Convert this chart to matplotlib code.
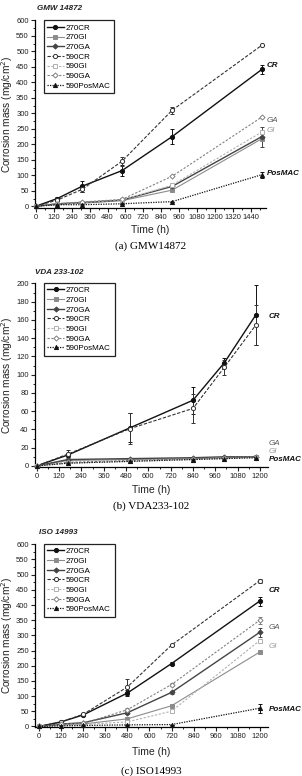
import numpy as np
import matplotlib
matplotlib.use("Agg")
from matplotlib import pyplot as plt
from matplotlib.ticker import MultipleLocator
from matplotlib.transforms import blended_transform_factory

# --- data (corrosion mass, mg/cm^2) ---
SERIES = ["270CR", "270GI", "270GA", "590CR", "590GI", "590GA", "590PosMAC"]

# (a) GMW 14872
A_TIME = [0, 144, 312, 576, 912, 1512]
A_270CR = [0, 25, 65, 115, 225, 442]
A_270GI = [0, 6, 10, 18, 52, 218]
A_270GA = [0, 8, 12, 20, 64, 225]
A_590CR = [0, 20, 55, 145, 310, 520]
A_590GI = [0, 6, 12, 20, 68, 240]
A_590GA = [0, 8, 14, 22, 97, 288]
A_590POS = [0, 5, 5, 8, 15, 102]
A_ERR_270CR = [0, 6, 18, 18, 25, 15]
A_ERR_590CR = [0, 4, 8, 15, 12, 0]
A_ERR_270GA = [0, 0, 0, 0, 6, 32]
A_ERR_590POS = [0, 0, 0, 0, 0, 10]

# (b) VDA 233-102
B_TIME = [0, 168, 504, 840, 1008, 1176]
B_270CR = [0, 12, 42, 72, 113, 165]
B_270GI = [0, 6, 7, 8, 9, 10]
B_270GA = [0, 7, 8, 9, 10, 10]
B_590CR = [0, 13, 41, 63, 108, 154]
B_590GI = [0, 3, 5, 7, 8, 9]
B_590GA = [0, 4, 6, 8, 9, 10]
B_590POS = [0, 3, 5, 7, 8, 9]
B_ERR_270CR = [0, 2, 16, 15, 5, 33]
B_ERR_590CR = [0, 4, 17, 16, 8, 22]

# (c) ISO 14993
C_TIME = [0, 120, 240, 480, 720, 1200]
C_270CR = [0, 15, 38, 110, 207, 413]
C_270GI = [0, 5, 8, 25, 68, 245]
C_270GA = [0, 8, 12, 45, 112, 310]
C_590CR = [0, 15, 40, 130, 268, 480]
C_590GI = [0, 4, 6, 15, 50, 283]
C_590GA = [0, 8, 10, 55, 138, 350]
C_590POS = [0, 2, 3, 5, 6, 60]
C_ERR_270CR = [0, 3, 4, 10, 6, 15]
C_ERR_590CR = [0, 3, 4, 25, 4, 6]
C_ERR_270GA = [0, 0, 0, 5, 5, 15]
C_ERR_590GA = [0, 0, 0, 5, 5, 12]
C_ERR_590POS = [0, 0, 0, 0, 0, 15]

# right-hand annotations: name, y (data units)
A_TAGS = [("CR", 455), ("GA", 277), ("GI", 245), ("PosMAC", 105)]
B_TAGS = [("CR", 164), ("GA", 25), ("GI", 16), ("PosMAC", 7)]
C_TAGS = [("CR", 447), ("GA", 327), ("GI", 263), ("PosMAC", 55)]

STYLE = {
    "270CR": dict(color="#111111", ls="-", marker="o", mfc="#111111", lw=1.0),
    "270GI": dict(color="#8c8c8c", ls="-", marker="s", mfc="#8c8c8c", lw=0.8),
    "270GA": dict(color="#444444", ls="-", marker="D", mfc="#444444", lw=1.0),
    "590CR": dict(color="#333333", ls=(0, (3, 1.5)), marker="o", mfc="white", lw=0.8),
    "590GI": dict(color="#b0b0b0", ls=(0, (2, 1.5)), marker="s", mfc="white", lw=0.8),
    "590GA": dict(color="#808080", ls=(0, (2, 1.5)), marker="D", mfc="white", lw=0.8),
    "590PosMAC": dict(color="#111111", ls=(0, (1, 1)), marker="^", mfc="#111111", lw=0.9),
}
TAG_STYLE = {
    "CR": dict(color="#111111", weight="bold", style="italic"),
    "GA": dict(color="#555555", style="italic"),
    "GI": dict(color="#9a9a9a", style="italic"),
    "PosMAC": dict(color="#111111", weight="bold", style="italic"),
}

plt.rcParams["font.family"] = ["Liberation Sans", "DejaVu Sans"]

fig = plt.figure(figsize=(3.02, 7.76), dpi=100)


def draw_panel(rect, time, values, errs, xlim, ylim, xstep, ystep, tags, title, title_xy,
               caption, caption_y, xlab_y):
    ax = fig.add_axes(rect)
    for name, y in zip(SERIES, values):
        st = STYLE[name]
        ms = 2.6 if st["marker"] == "D" else 3.0
        ax.plot(time, y, color=st["color"], ls=st["ls"], lw=st["lw"], marker=st["marker"],
                mfc=st["mfc"], mec=st["color"], ms=ms, mew=0.7, label=name, clip_on=False,
                zorder=3)
        if errs.get(name) is not None:
            ax.errorbar(time, y, yerr=errs[name], fmt="none", ecolor=st["color"],
                        elinewidth=0.7, capsize=1.6, capthick=0.7, zorder=2)
    ax.set_xlim(*xlim)
    ax.set_ylim(*ylim)
    ax.xaxis.set_major_locator(MultipleLocator(xstep))
    ax.xaxis.set_minor_locator(MultipleLocator(xstep / 2))
    ax.yaxis.set_major_locator(MultipleLocator(ystep))
    ax.yaxis.set_minor_locator(MultipleLocator(ystep / 2))
    ax.set_xticks([t for t in ax.get_xticks() if xlim[0] <= t <= xlim[1] - 40])
    ax.set_yticks([t for t in ax.get_yticks() if ylim[0] <= t <= ylim[1] + 1])
    for s in ("top", "right"):
        ax.spines[s].set_visible(False)
    for s in ("left", "bottom"):
        ax.spines[s].set_linewidth(0.9)
    ax.tick_params(which="major", direction="out", length=3, width=0.8, labelsize=5.5,
                   pad=1.5, colors="#222222")
    ax.tick_params(which="minor", direction="out", length=1.6, width=0.6)
    ax.set_xlabel("Time (h)", fontsize=7.5, color="#222222")
    ax.set_ylabel("Corrosion mass (mg/cm$^2$)", fontsize=7.3, color="#222222")
    ax.xaxis.set_label_coords(0.5, xlab_y)
    ax.yaxis.set_label_coords(-0.085, 0.5)
    leg = ax.legend(loc="upper left", bbox_to_anchor=(0.038, 1.0), borderaxespad=0,
                    fontsize=5.8, handlelength=2.0, handletextpad=0.3, labelspacing=0.25,
                    borderpad=0.45, fancybox=False, framealpha=1, edgecolor="#222222")
    leg.get_frame().set_linewidth(0.9)
    tr = blended_transform_factory(ax.transAxes, ax.transData)
    for name, yv in tags:
        ax.text(1.003, yv, name, transform=tr, fontsize=5.8, ha="left", va="center",
                clip_on=False, **TAG_STYLE[name])
    fig.text(title_xy[0] / 302, 1 - title_xy[1] / 776, title, fontsize=5.8, style="italic",
             weight="bold", color="#222222", ha="left", va="center")
    fig.text(0.5, 1 - caption_y / 776, caption, fontsize=8, family="Liberation Serif",
             ha="center", va="center")
    return ax


draw_panel([35 / 302, 1 - 207.5 / 776, 231 / 302, 187 / 776], A_TIME,
           [A_270CR, A_270GI, A_270GA, A_590CR, A_590GI, A_590GA, A_590POS],
           {"270CR": A_ERR_270CR, "590CR": A_ERR_590CR, "270GA": A_ERR_270GA,
            "590PosMAC": A_ERR_590POS},
           (-5, 1540), (-4, 600), 120, 50, A_TAGS, "GMW 14872", (37, 9),
           "(a) GMW14872", 246, -0.095)

draw_panel([35 / 302, 1 - 467 / 776, 233 / 302, 184 / 776], B_TIME,
           [B_270CR, B_270GI, B_270GA, B_590CR, B_590GI, B_590GA, B_590POS],
           {"270CR": B_ERR_270CR, "590CR": B_ERR_590CR},
           (-9, 1243), (-1.2, 200.5), 120, 20, B_TAGS, "VDA 233-102", (35, 272),
           "(b) VDA233-102", 506, -0.098)

draw_panel([35 / 302, 1 - 727 / 776, 233 / 302, 183 / 776], C_TIME,
           [C_270CR, C_270GI, C_270GA, C_590CR, C_590GI, C_590GA, C_590POS],
           {"270CR": C_ERR_270CR, "590CR": C_ERR_590CR, "270GA": C_ERR_270GA,
            "590GA": C_ERR_590GA, "590PosMAC": C_ERR_590POS},
           (-23, 1245), (-2, 601), 120, 50, C_TAGS, "ISO 14993", (39, 532),
           "(c) ISO14993", 771, -0.11)

fig.savefig("out.png", dpi=100)
